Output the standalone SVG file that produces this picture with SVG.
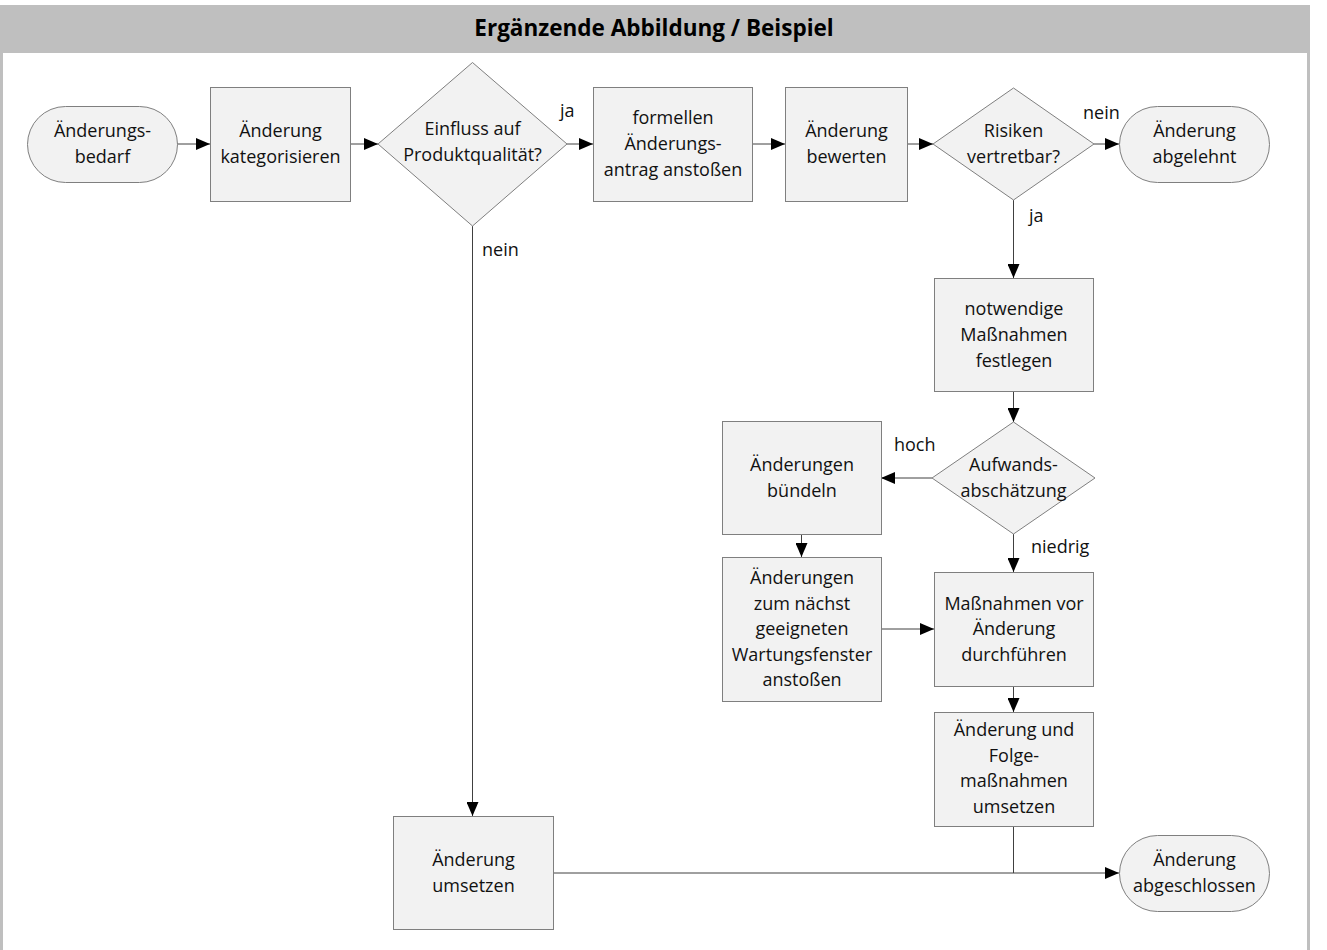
<svg xmlns="http://www.w3.org/2000/svg" width="1327" height="950" viewBox="0 0 1327 950">
  <style>
    .frame { fill: none; stroke: #bfbfbf; stroke-width: 3; }
    .band { fill: #bfbfbf; }
    .title { font-family: "Open Sans", "Liberation Sans", sans-serif; font-size: 22.5px; font-weight: bold; fill: #000; text-anchor: middle; }
    .shape { fill: #f2f2f2; stroke: #7f7f7f; stroke-width: 1; }
    .lbl { font-family: "Open Sans", "Liberation Sans", sans-serif; font-size: 18px; fill: #111; text-anchor: middle; }
    .edge-lbl { font-family: "Open Sans", "Liberation Sans", sans-serif; font-size: 18px; fill: #111; }
    .conn { fill: none; stroke: #404040; stroke-width: 1; }
  </style>
  <defs>
    <marker id="arrow" viewBox="0 0 14 12" refX="14" refY="6" markerWidth="14" markerHeight="12" markerUnits="userSpaceOnUse" orient="auto">
      <path d="M0,0 L14,6 L0,12 Z" fill="#000"/>
    </marker>
  </defs>

  <rect width="1327" height="950" fill="#fff"/>
  <!-- page frame and title band -->
  <line class="frame" x1="1.5" y1="53" x2="1.5" y2="950"/>
  <line class="frame" x1="1308.5" y1="53" x2="1308.5" y2="950"/>
  <rect class="band" x="0" y="5" width="1310" height="48"/>
  <text class="title" x="654" y="36">Ergänzende Abbildung / Beispiel</text>

  <!-- connectors -->
  <g id="connectors">
    <line class="conn" x1="177" y1="144" x2="210" y2="144" marker-end="url(#arrow)"/>
    <line class="conn" x1="350" y1="144" x2="378" y2="144" marker-end="url(#arrow)"/>
    <line class="conn" x1="567" y1="144" x2="593" y2="144" marker-end="url(#arrow)"/>
    <text class="edge-lbl" x="560" y="117">ja</text>
    <line class="conn" x1="752" y1="144" x2="785" y2="144" marker-end="url(#arrow)"/>
    <line class="conn" x1="907" y1="144" x2="933" y2="144" marker-end="url(#arrow)"/>
    <line class="conn" x1="1094" y1="144" x2="1119" y2="144" marker-end="url(#arrow)"/>
    <text class="edge-lbl" x="1083" y="119">nein</text>
    <line class="conn" x1="1013.5" y1="200" x2="1013.5" y2="278" marker-end="url(#arrow)"/>
    <text class="edge-lbl" x="1029" y="222">ja</text>
    <line class="conn" x1="472.5" y1="226" x2="472.5" y2="816" marker-end="url(#arrow)"/>
    <text class="edge-lbl" x="482" y="256">nein</text>
    <line class="conn" x1="1013.5" y1="391" x2="1013.5" y2="422" marker-end="url(#arrow)"/>
    <line class="conn" x1="932" y1="478" x2="881" y2="478" marker-end="url(#arrow)"/>
    <text class="edge-lbl" x="894" y="451">hoch</text>
    <line class="conn" x1="1013.5" y1="534" x2="1013.5" y2="572" marker-end="url(#arrow)"/>
    <text class="edge-lbl" x="1031" y="553">niedrig</text>
    <line class="conn" x1="801.5" y1="534" x2="801.5" y2="557" marker-end="url(#arrow)"/>
    <line class="conn" x1="881" y1="629" x2="934" y2="629" marker-end="url(#arrow)"/>
    <line class="conn" x1="1013.5" y1="686" x2="1013.5" y2="712" marker-end="url(#arrow)"/>
    <line class="conn" x1="553" y1="873" x2="1119" y2="873" marker-end="url(#arrow)"/>
    <line class="conn" x1="1013.5" y1="826" x2="1013.5" y2="873"/>
  </g>

  <!-- nodes -->
  <g id="n-bedarf">
    <rect class="shape" x="27.5" y="106.5" width="150" height="76" rx="38" ry="38"/>
    <text class="lbl" x="102.5" y="137">Änderungs-</text>
    <text class="lbl" x="102.5" y="163">bedarf</text>
  </g>
  <g id="n-kategorisieren">
    <rect class="shape" x="210.5" y="87.5" width="140" height="114"/>
    <text class="lbl" x="280.5" y="137">Änderung</text>
    <text class="lbl" x="280.5" y="163">kategorisieren</text>
  </g>
  <g id="n-einfluss">
    <polygon class="shape" points="472.5,62.5 567,144 472.5,226 378,144"/>
    <text class="lbl" x="472.5" y="135">Einfluss auf</text>
    <text class="lbl" x="472.5" y="161">Produktqualität?</text>
  </g>
  <g id="n-antrag">
    <rect class="shape" x="593.5" y="87.5" width="159" height="114"/>
    <text class="lbl" x="673" y="124">formellen</text>
    <text class="lbl" x="673" y="150">Änderungs-</text>
    <text class="lbl" x="673" y="176">antrag anstoßen</text>
  </g>
  <g id="n-bewerten">
    <rect class="shape" x="785.5" y="87.5" width="122" height="114"/>
    <text class="lbl" x="846.5" y="137">Änderung</text>
    <text class="lbl" x="846.5" y="163">bewerten</text>
  </g>
  <g id="n-risiken">
    <polygon class="shape" points="1013.5,88 1094,144 1013.5,200 933,144"/>
    <text class="lbl" x="1013.5" y="137">Risiken</text>
    <text class="lbl" x="1013.5" y="163">vertretbar?</text>
  </g>
  <g id="n-abgelehnt">
    <rect class="shape" x="1119.5" y="106.5" width="150" height="76" rx="38" ry="38"/>
    <text class="lbl" x="1194.5" y="137">Änderung</text>
    <text class="lbl" x="1194.5" y="163">abgelehnt</text>
  </g>
  <g id="n-festlegen">
    <rect class="shape" x="934.5" y="278.5" width="159" height="113"/>
    <text class="lbl" x="1014" y="315">notwendige</text>
    <text class="lbl" x="1014" y="341">Maßnahmen</text>
    <text class="lbl" x="1014" y="367">festlegen</text>
  </g>
  <g id="n-aufwand">
    <polygon class="shape" points="1013.5,422 1095,478 1013.5,534 932,478"/>
    <text class="lbl" x="1013.5" y="471">Aufwands-</text>
    <text class="lbl" x="1013.5" y="497">abschätzung</text>
  </g>
  <g id="n-buendeln">
    <rect class="shape" x="722.5" y="421.5" width="159" height="113"/>
    <text class="lbl" x="802" y="471">Änderungen</text>
    <text class="lbl" x="802" y="497">bündeln</text>
  </g>
  <g id="n-wartungsfenster">
    <rect class="shape" x="722.5" y="557.5" width="159" height="144"/>
    <text class="lbl" x="802" y="584">Änderungen</text>
    <text class="lbl" x="802" y="610">zum nächst</text>
    <text class="lbl" x="802" y="635">geeigneten</text>
    <text class="lbl" x="802" y="661">Wartungsfenster</text>
    <text class="lbl" x="802" y="686">anstoßen</text>
  </g>
  <g id="n-vorab">
    <rect class="shape" x="934.5" y="572.5" width="159" height="114"/>
    <text class="lbl" x="1014" y="610">Maßnahmen vor</text>
    <text class="lbl" x="1014" y="635">Änderung</text>
    <text class="lbl" x="1014" y="661">durchführen</text>
  </g>
  <g id="n-folgemassnahmen">
    <rect class="shape" x="934.5" y="712.5" width="159" height="114"/>
    <text class="lbl" x="1014" y="736">Änderung und</text>
    <text class="lbl" x="1014" y="762">Folge-</text>
    <text class="lbl" x="1014" y="787">maßnahmen</text>
    <text class="lbl" x="1014" y="813">umsetzen</text>
  </g>
  <g id="n-umsetzen">
    <rect class="shape" x="393.5" y="816.5" width="160" height="113"/>
    <text class="lbl" x="473.5" y="866">Änderung</text>
    <text class="lbl" x="473.5" y="892">umsetzen</text>
  </g>
  <g id="n-abgeschlossen">
    <rect class="shape" x="1119.5" y="835.5" width="150" height="76" rx="38" ry="38"/>
    <text class="lbl" x="1194.5" y="866">Änderung</text>
    <text class="lbl" x="1194.5" y="892">abgeschlossen</text>
  </g>
</svg>
